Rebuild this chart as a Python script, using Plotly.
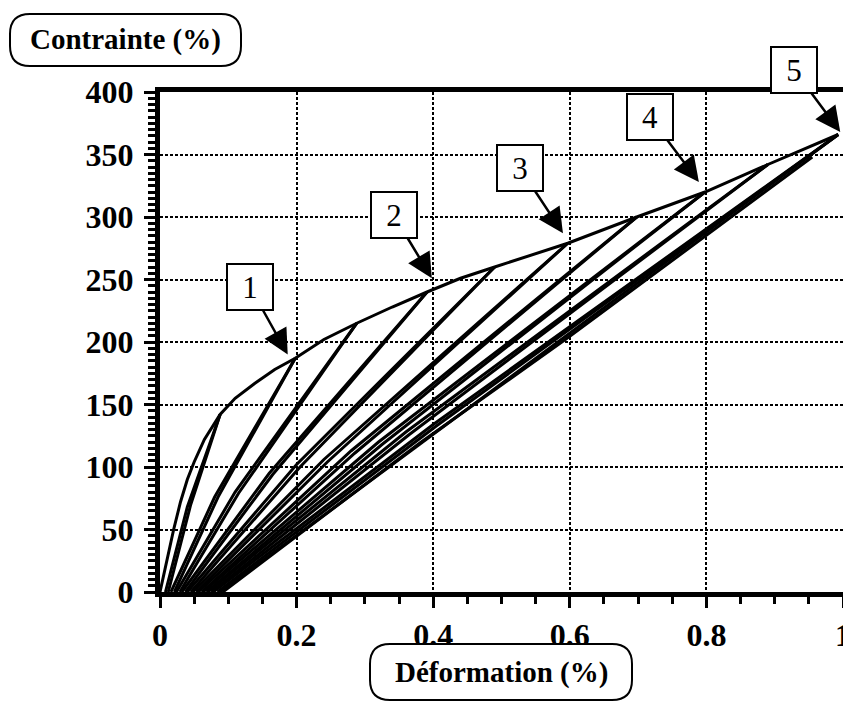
import plotly.graph_objects as go

# courbe enveloppe (chargement monotone)
env_strain = [0, 0.01, 0.02, 0.03, 0.04, 0.05, 0.065, 0.088, 0.11, 0.139, 0.168, 0.198,
              0.24, 0.288, 0.34, 0.391, 0.44, 0.49, 0.597, 0.698, 0.798, 0.89, 0.993]
env_stress = [0, 25, 50, 72, 90, 104, 122, 142, 155, 167, 178, 187,
              202, 215, 228, 240, 251, 260, 279, 300, 320, 342, 366]

# decharges (pic -> deformation residuelle)
unload_strain = [[0.088, 0.04, 0.008], [0.198, 0.08, 0.016], [0.288, 0.11, 0.024],
                 [0.391, 0.16, 0.032], [0.49, 0.2, 0.04], [0.597, 0.24, 0.048],
                 [0.698, 0.28, 0.056], [0.798, 0.32, 0.063], [0.89, 0.36, 0.07],
                 [0.993, 0.40, 0.078], [0.993, 0.41, 0.088]]
unload_stress = [[142, 68, 0], [187, 76, 0], [215, 80, 0],
                 [240, 95, 0], [260, 102, 0], [279, 106, 0],
                 [300, 113, 0], [320, 120, 0], [342, 128, 0],
                 [366, 134, 0], [366, 130, 0]]

# recharges (residuelle -> pic)
reload_strain = [[0.012, 0.045, 0.088], [0.021, 0.085, 0.198], [0.029, 0.115, 0.288],
                 [0.037, 0.165, 0.391], [0.045, 0.205, 0.49], [0.053, 0.245, 0.597],
                 [0.061, 0.285, 0.698], [0.068, 0.325, 0.798], [0.075, 0.365, 0.89],
                 [0.084, 0.405, 0.993], [0.092, 0.38, 0.596, 0.955]]
reload_stress = [[0, 70, 142], [0, 76, 187], [0, 79, 215],
                 [0, 94, 240], [0, 100, 260], [0, 104, 279],
                 [0, 111, 300], [0, 118, 320], [0, 126, 342],
                 [0, 133, 366], [0, 119, 203, 348]]

# reperes numerotes
mark_labels = ["1", "2", "3", "4", "5"]
mark_x = [0.187, 0.398, 0.59, 0.789, 0.996]
mark_y = [190, 251, 287, 328, 368]
mark_ax = [-38, -38, -43, -49, -46]
mark_ay = [-68, -63, -65, -65, -62]

FONT = "Liberation Serif"
OFF = 8  # marge du <body> de la page
W, H = 843, 707
L, R, T, B = 160 - OFF, 8, 92 - OFF, 123
PW, PH = W - L - R, H - T - B

fig = go.Figure()
line = dict(color="black", width=3)
fig.add_trace(go.Scatter(x=env_strain, y=env_stress, mode="lines", line=line))
for xs, ys in zip(unload_strain, unload_stress):
    fig.add_trace(go.Scatter(x=xs, y=ys, mode="lines", line=line))
for xs, ys in zip(reload_strain, reload_stress):
    fig.add_trace(go.Scatter(x=xs, y=ys, mode="lines", line=line))

for t, x, y, ax, ay in zip(mark_labels, mark_x, mark_y, mark_ax, mark_ay):
    fig.add_annotation(x=x, y=y, text=t, ax=ax, ay=ay, showarrow=True,
                       arrowhead=2, arrowsize=2, arrowwidth=2.5, arrowcolor="black",
                       font=dict(family=FONT, size=31, color="black"),
                       bgcolor="white", bordercolor="black", borderwidth=2,
                       borderpad=3, width=38, height=38)


def px2paper(px, py):
    # pixels de la page -> coordonnees paper
    return (px - OFF - L) / PW, (H - B - (py - OFF)) / PH


def rounded_box(x0, y0, x1, y1, r=20):
    rx, ry = r / PW, r / PH
    a0, b1 = px2paper(x0, y0)
    a1, b0 = px2paper(x1, y1)
    path = (f"M {a0+rx},{b1} L {a1-rx},{b1} Q {a1},{b1} {a1},{b1-ry} "
            f"L {a1},{b0+ry} Q {a1},{b0} {a1-rx},{b0} L {a0+rx},{b0} "
            f"Q {a0},{b0} {a0},{b0+ry} L {a0},{b1-ry} Q {a0},{b1} {a0+rx},{b1} Z")
    fig.add_shape(type="path", path=path, xref="paper", yref="paper",
                  line=dict(color="black", width=2), fillcolor="white")
    return px2paper((x0 + x1) / 2, (y0 + y1) / 2)


cx, cy = rounded_box(10, 14, 241, 66)
fig.add_annotation(x=cx, y=cy, xref="paper", yref="paper", text="<b>Contrainte (%)</b>",
                   showarrow=False, xanchor="center", yanchor="middle",
                   font=dict(family=FONT, size=29, color="black"))
cx, cy = rounded_box(370, 644, 632, 700)
fig.add_annotation(x=cx, y=cy, xref="paper", yref="paper", text="<b>Déformation (%)</b>",
                   showarrow=False, xanchor="center", yanchor="middle",
                   font=dict(family=FONT, size=29, color="black"))

axis_common = dict(showline=True, linewidth=5, linecolor="black", mirror=True,
                   ticks="outside", ticklen=11, tickwidth=3, tickcolor="black",
                   showgrid=True, gridcolor="black", gridwidth=1.5, griddash="3px,2px",
                   zeroline=False, automargin=False,
                   tickfont=dict(family=FONT, size=32, color="black", weight="bold"))
fig.update_xaxes(range=[0, 1], dtick=0.2, tick0=0, ticklabelstandoff=0,
                 minor=dict(dtick=0.05, ticks="outside", ticklen=7, tickwidth=3,
                            tickcolor="black", showgrid=False),
                 **axis_common)
fig.update_yaxes(range=[0, 400], dtick=50, tick0=0, ticklabelstandoff=4,
                 minor=dict(dtick=5, ticks="outside", ticklen=7, tickwidth=3,
                            tickcolor="black", showgrid=False),
                 **axis_common)
fig.update_layout(width=W, height=H, margin=dict(l=L, r=R, t=T, b=B),
                  plot_bgcolor="white", paper_bgcolor="white", showlegend=False)
fig.write_html("out.html")
